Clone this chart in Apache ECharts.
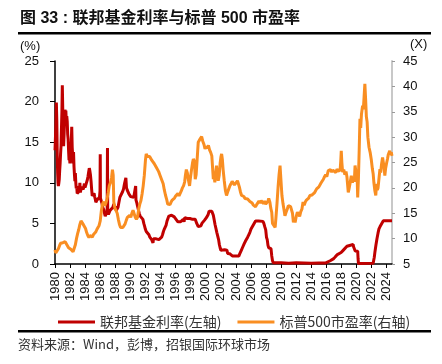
<!DOCTYPE html>
<html><head><meta charset="utf-8">
<script src="https://cdn.jsdelivr.net/npm/echarts@6/dist/echarts.min.js"></script>
<style>html,body{margin:0;padding:0;background:#fff}#c{width:442px;height:364px}</style>
</head><body><div id="c"></div>
<script>
// Texts
const titleText = '图 33 : 联邦基金利率与标普 500 市盈率';
const sourceText = '资料来源：Wind，彭博，招银国际环球市场';
const seriesNames = ['联邦基金利率(左轴)', '标普500市盈率(右轴)'];
const leftUnit = '(%)';
const rightUnit = '(X)';
// Axis ranges / ticks
const xMin = 1980, xMax = 2024.7, xStep = 2;
const leftMin = 0, leftMax = 25, leftStep = 5;
const rightMin = 5, rightMax = 45, rightStep = 5;

// Fed funds rate (%), [year, value]
const fedFunds = [
[1980.0,14.0],[1980.06,15.6],[1980.12,17.2],[1980.18,19.9],[1980.24,17.6],[1980.3,13.3],[1980.35,11.2],[1980.4,10.0],[1980.45,9.6],[1980.5,9.9],[1980.56,10.4],[1980.62,11.5],[1980.68,12.4],[1980.74,13.6],[1980.8,14.5],[1980.86,16.8],[1980.92,18.9],[1980.97,22.0],[1981.02,19.5],[1981.08,16.2],[1981.14,14.5],[1981.2,15.8],[1981.26,17.6],[1981.32,19.0],[1981.38,18.3],[1981.44,18.9],[1981.5,17.4],[1981.56,18.2],[1981.62,17.6],[1981.68,16.0],[1981.74,15.4],[1981.8,14.0],[1981.86,12.8],[1981.92,13.2],[1981.98,12.4],[1982.04,13.6],[1982.1,14.6],[1982.16,15.0],[1982.22,16.9],[1982.28,14.4],[1982.34,13.4],[1982.4,12.4],[1982.46,13.8],[1982.52,12.0],[1982.58,11.0],[1982.64,10.2],[1982.7,11.2],[1982.76,10.0],[1982.82,9.3],[1982.88,9.6],[1982.94,8.7],[1983.0,8.6],[1983.08,8.8],[1983.16,8.5],[1983.24,9.0],[1983.3,10.0],[1983.36,8.8],[1983.42,9.0],[1983.5,9.5],[1983.58,9.7],[1983.66,9.3],[1983.74,9.2],[1983.82,9.5],[1983.9,9.9],[1983.98,9.4],[1984.06,9.6],[1984.14,9.9],[1984.22,10.0],[1984.3,10.4],[1984.38,10.8],[1984.46,11.3],[1984.55,11.8],[1984.62,11.5],[1984.7,11.0],[1984.78,10.2],[1984.86,9.2],[1984.94,8.4],[1985.02,8.6],[1985.1,8.4],[1985.18,8.7],[1985.26,8.3],[1985.34,8.0],[1985.42,7.6],[1985.5,7.8],[1985.58,7.9],[1985.66,7.8],[1985.74,8.0],[1985.82,8.0],[1985.9,8.2],[1985.97,9.0],[1986.0,13.5],[1986.03,8.1],[1986.12,7.9],[1986.22,7.5],[1986.32,7.0],[1986.42,6.9],[1986.5,6.6],[1986.58,6.2],[1986.66,5.9],[1986.76,5.9],[1986.86,6.1],[1986.92,6.5],[1986.96,14.3],[1986.99,6.6],[1987.08,6.1],[1987.18,6.3],[1987.3,6.6],[1987.42,6.8],[1987.55,6.6],[1987.68,7.0],[1987.8,7.4],[1987.9,6.8],[1988.0,7.1],[1988.12,6.6],[1988.24,6.7],[1988.36,7.0],[1988.48,7.6],[1988.6,8.2],[1988.72,8.1],[1988.84,8.4],[1988.96,8.9],[1989.08,9.2],[1989.2,9.8],[1989.32,9.8],[1989.4,10.6],[1989.48,9.4],[1989.58,9.1],[1989.7,8.9],[1989.82,8.6],[1989.92,8.4],[1990.04,8.3],[1990.16,8.2],[1990.3,8.3],[1990.44,8.2],[1990.58,8.0],[1990.66,8.0],[1990.7,9.6],[1990.74,7.9],[1990.86,7.5],[1990.98,7.0],[1991.06,6.7],[1991.18,6.2],[1991.3,5.9],[1991.42,5.8],[1991.54,5.7],[1991.66,5.5],[1991.78,5.0],[1991.9,4.6],[1991.98,4.3],[1992.1,4.0],[1992.22,4.0],[1992.34,3.8],[1992.46,3.6],[1992.58,3.3],[1992.7,3.1],[1992.82,3.0],[1992.94,3.0],[1993.0,2.6],[1993.06,3.1],[1993.18,3.0],[1993.3,2.9],[1993.42,3.1],[1993.54,3.0],[1993.66,3.1],[1993.78,3.0],[1993.9,3.1],[1994.02,3.1],[1994.14,3.3],[1994.26,3.6],[1994.38,4.0],[1994.5,4.3],[1994.62,4.5],[1994.74,4.8],[1994.86,5.3],[1994.98,5.6],[1995.1,5.9],[1995.22,6.1],[1995.34,6.0],[1995.46,6.0],[1995.58,5.8],[1995.7,5.8],[1995.82,5.8],[1995.94,5.6],[1996.06,5.5],[1996.18,5.3],[1996.3,5.2],[1996.42,5.3],[1996.54,5.4],[1996.66,5.2],[1996.78,5.3],[1996.9,5.3],[1997.0,5.5],[1997.12,5.2],[1997.2,5.7],[1997.3,5.5],[1997.42,5.5],[1997.54,5.6],[1997.66,5.5],[1997.78,5.5],[1997.9,5.6],[1998.0,5.5],[1998.12,5.5],[1998.24,5.5],[1998.36,5.5],[1998.48,5.6],[1998.6,5.5],[1998.72,5.4],[1998.8,5.0],[1998.9,4.8],[1999.0,4.6],[1999.12,4.7],[1999.24,4.8],[1999.36,4.7],[1999.48,5.0],[1999.6,5.1],[1999.72,5.2],[1999.84,5.4],[1999.96,5.4],[2000.08,5.7],[2000.2,5.9],[2000.32,6.1],[2000.44,6.5],[2000.56,6.5],[2000.68,6.5],[2000.8,6.5],[2000.92,6.4],[2001.0,6.0],[2001.1,5.5],[2001.22,4.9],[2001.34,4.4],[2001.46,3.9],[2001.58,3.7],[2001.7,3.0],[2001.8,2.4],[2001.9,2.0],[2002.0,1.7],[2002.2,1.75],[2002.5,1.75],[2002.8,1.7],[2002.9,1.3],[2003.2,1.25],[2003.45,1.2],[2003.52,1.0],[2004.4,1.0],[2004.5,1.25],[2004.62,1.45],[2004.74,1.75],[2004.86,2.0],[2004.98,2.2],[2005.1,2.5],[2005.25,2.8],[2005.4,3.0],[2005.55,3.3],[2005.7,3.6],[2005.85,3.9],[2006.0,4.3],[2006.15,4.5],[2006.3,4.8],[2006.45,5.0],[2006.6,5.3],[2007.0,5.3],[2007.58,5.25],[2007.7,5.0],[2007.82,4.6],[2007.95,4.2],[2008.05,3.3],[2008.15,3.0],[2008.25,2.3],[2008.35,2.0],[2008.65,1.9],[2008.75,1.0],[2008.85,0.4],[2008.95,0.15],[2010.0,0.15],[2011.0,0.1],[2012.0,0.14],[2013.0,0.12],[2014.0,0.08],[2015.0,0.12],[2015.92,0.13],[2015.97,0.36],[2016.5,0.4],[2016.97,0.66],[2017.2,0.91],[2017.45,1.16],[2017.95,1.41],[2018.22,1.68],[2018.47,1.91],[2018.72,2.18],[2018.97,2.4],[2019.55,2.4],[2019.6,2.13],[2019.72,1.9],[2019.82,1.6],[2020.15,1.58],[2020.2,0.65],[2020.25,0.06],[2022.2,0.08],[2022.25,0.33],[2022.35,0.83],[2022.45,1.58],[2022.57,2.33],[2022.7,3.08],[2022.85,3.83],[2022.97,4.33],[2023.1,4.58],[2023.25,4.83],[2023.4,5.08],[2023.55,5.33],[2024.7,5.33]
];

// S&P 500 P/E (x), [year, value]
const spxPE = [
[1980.0,7.8],[1980.1,7.2],[1980.2,7.0],[1980.3,7.3],[1980.45,8.0],[1980.6,8.6],[1980.75,9.1],[1980.9,9.4],[1981.05,9.2],[1981.2,9.3],[1981.35,9.4],[1981.5,9.2],[1981.65,8.6],[1981.8,8.2],[1981.95,8.3],[1982.1,7.9],[1982.25,7.6],[1982.4,7.4],[1982.55,7.5],[1982.7,8.8],[1982.85,10.0],[1983.0,11.0],[1983.15,11.8],[1983.3,12.8],[1983.45,13.5],[1983.6,13.3],[1983.75,12.8],[1983.9,12.6],[1984.05,12.0],[1984.2,11.2],[1984.35,10.6],[1984.5,10.2],[1984.65,10.6],[1984.8,10.5],[1984.95,10.3],[1985.1,10.8],[1985.25,10.9],[1985.4,11.3],[1985.55,11.8],[1985.7,12.0],[1985.85,12.6],[1986.0,13.5],[1986.15,15.5],[1986.3,16.8],[1986.45,17.3],[1986.6,16.5],[1986.75,17.0],[1986.9,17.8],[1987.05,19.0],[1987.2,20.4],[1987.35,21.0],[1987.5,22.0],[1987.62,23.6],[1987.72,22.5],[1987.8,17.2],[1987.95,16.0],[1988.1,15.5],[1988.25,15.0],[1988.4,13.8],[1988.55,12.8],[1988.7,12.2],[1988.85,12.0],[1989.0,12.2],[1989.15,12.5],[1989.3,12.9],[1989.45,13.6],[1989.6,14.2],[1989.75,14.5],[1989.9,14.6],[1990.05,14.2],[1990.2,15.0],[1990.35,15.6],[1990.5,15.8],[1990.65,14.2],[1990.8,13.8],[1990.95,14.2],[1991.1,15.8],[1991.25,16.8],[1991.4,17.5],[1991.55,18.8],[1991.7,20.4],[1991.85,22.5],[1992.0,25.5],[1992.1,26.7],[1992.25,26.2],[1992.4,26.5],[1992.55,26.2],[1992.7,25.8],[1992.85,25.4],[1993.0,25.6],[1993.15,24.8],[1993.3,24.6],[1993.45,24.0],[1993.6,23.8],[1993.75,23.2],[1993.9,22.6],[1994.05,22.0],[1994.2,21.4],[1994.35,20.8],[1994.5,19.6],[1994.65,18.6],[1994.8,17.8],[1994.95,16.8],[1995.1,16.5],[1995.25,16.7],[1995.4,17.2],[1995.55,17.6],[1995.7,17.8],[1995.85,18.0],[1996.0,18.4],[1996.15,18.6],[1996.3,18.9],[1996.45,18.4],[1996.6,18.5],[1996.75,19.4],[1996.9,20.0],[1997.05,20.4],[1997.2,21.2],[1997.3,22.5],[1997.42,23.6],[1997.55,23.0],[1997.7,21.5],[1997.85,20.4],[1997.95,21.8],[1998.1,23.5],[1998.25,25.0],[1998.35,25.7],[1998.5,25.2],[1998.6,21.7],[1998.72,22.6],[1998.85,25.5],[1999.0,29.0],[1999.15,29.4],[1999.3,29.7],[1999.45,30.1],[1999.6,29.2],[1999.75,28.6],[1999.9,27.7],[2000.05,28.2],[2000.2,27.8],[2000.35,28.4],[2000.5,27.5],[2000.65,27.0],[2000.8,26.3],[2000.9,24.0],[2001.0,21.7],[2001.1,22.4],[2001.2,21.1],[2001.32,23.0],[2001.42,24.4],[2001.52,22.6],[2001.65,21.4],[2001.78,22.5],[2001.9,24.8],[2002.0,26.0],[2002.1,26.7],[2002.2,25.6],[2002.3,23.6],[2002.45,21.4],[2002.6,19.5],[2002.75,18.5],[2002.9,19.2],[2003.05,19.8],[2003.2,20.4],[2003.35,20.8],[2003.5,21.3],[2003.65,21.0],[2003.8,20.6],[2003.9,20.4],[2004.05,20.9],[2004.2,21.4],[2004.3,21.1],[2004.45,20.2],[2004.6,19.2],[2004.75,18.5],[2004.9,18.8],[2005.05,18.3],[2005.2,17.9],[2005.4,17.8],[2005.55,17.8],[2005.7,17.5],[2005.85,17.3],[2006.0,17.3],[2006.15,17.0],[2006.3,16.6],[2006.45,16.4],[2006.6,16.3],[2006.75,16.7],[2006.9,17.0],[2007.05,17.4],[2007.2,17.0],[2007.35,17.5],[2007.5,17.2],[2007.65,16.9],[2007.8,17.4],[2007.95,16.8],[2008.1,16.9],[2008.25,17.4],[2008.35,17.9],[2008.5,17.2],[2008.62,16.0],[2008.75,15.2],[2008.85,13.0],[2008.95,13.3],[2009.05,12.8],[2009.2,12.2],[2009.3,14.0],[2009.45,17.0],[2009.6,20.4],[2009.72,22.6],[2009.85,24.4],[2009.95,22.0],[2010.1,18.5],[2010.25,16.8],[2010.4,15.5],[2010.5,14.5],[2010.65,15.2],[2010.8,15.8],[2010.95,16.5],[2011.1,16.6],[2011.25,16.3],[2011.4,16.5],[2011.5,15.0],[2011.62,13.2],[2011.72,13.8],[2011.85,13.2],[2012.0,14.4],[2012.15,15.2],[2012.3,15.0],[2012.45,14.4],[2012.6,15.3],[2012.75,15.8],[2012.9,17.2],[2013.05,16.6],[2013.2,17.2],[2013.35,17.6],[2013.5,17.3],[2013.65,18.0],[2013.8,18.5],[2013.95,18.2],[2014.1,18.6],[2014.25,18.8],[2014.4,19.0],[2014.55,19.4],[2014.7,19.8],[2014.85,19.5],[2015.0,20.2],[2015.15,20.4],[2015.3,21.0],[2015.45,21.2],[2015.6,21.7],[2015.75,22.2],[2015.9,22.6],[2016.05,22.2],[2016.25,23.4],[2016.4,23.2],[2016.55,23.6],[2016.7,23.1],[2016.85,23.5],[2017.0,23.3],[2017.1,23.4],[2017.25,23.0],[2017.4,23.7],[2017.55,23.3],[2017.7,23.6],[2017.82,23.5],[2017.9,25.2],[2017.97,27.3],[2018.05,25.0],[2018.15,23.1],[2018.3,23.6],[2018.45,22.6],[2018.6,23.2],[2018.72,22.2],[2018.82,20.5],[2018.9,19.1],[2019.0,19.8],[2019.15,21.0],[2019.3,22.4],[2019.45,21.0],[2019.58,22.0],[2019.7,21.2],[2019.8,24.4],[2019.95,22.8],[2020.05,23.6],[2020.15,18.1],[2020.25,22.0],[2020.35,27.5],[2020.45,33.6],[2020.55,31.8],[2020.65,34.5],[2020.8,36.2],[2020.9,35.5],[2021.0,38.0],[2021.1,40.5],[2021.2,37.5],[2021.3,34.0],[2021.4,33.0],[2021.5,30.0],[2021.65,28.0],[2021.8,27.0],[2021.95,25.6],[2022.1,23.7],[2022.2,22.8],[2022.3,21.0],[2022.42,19.5],[2022.55,18.5],[2022.65,20.8],[2022.75,19.6],[2022.85,20.0],[2022.95,21.5],[2023.1,23.7],[2023.2,23.0],[2023.3,24.5],[2023.45,26.0],[2023.55,25.0],[2023.65,24.0],[2023.75,22.4],[2023.85,23.8],[2024.0,25.0],[2024.1,25.7],[2024.2,26.5],[2024.3,26.9],[2024.4,27.3],[2024.5,26.6],[2024.6,27.0],[2024.7,26.3]
];

const RED = '#C00000', ORANGE = '#F98E22';
const FONT = '"Liberation Sans", Arial, "Noto Sans CJK SC", sans-serif';
const CJK = '"Noto Sans CJK SC", sans-serif';

const chart = echarts.init(document.getElementById('c'), null, {renderer: 'canvas'});
chart.setOption({
  animation: false,
  backgroundColor: '#fff',
  textStyle: {fontFamily: FONT},
  grid: {left: 55, right: 50, top: 61, bottom: 100, containLabel: false},
  legend: {
    left: 53, top: 310, itemWidth: 37, itemHeight: 3, itemGap: 16,
    icon: 'rect',
    textStyle: {fontFamily: CJK, fontSize: 14, color: '#333'},
    data: seriesNames
  },
  graphic: [
    {type: 'text', left: 20, top: 11, style: {text: titleText, font: 'bold 16px ' + FONT, fill: '#111'}},
    {type: 'rect', shape: {x: 18, y: 32, width: 413, height: 2.5}, style: {fill: '#000'}},
    {type: 'text', left: 20, top: 40, style: {text: leftUnit, font: '13px ' + FONT, fill: '#111'}},
    {type: 'text', left: 410, top: 38, style: {text: rightUnit, font: '13px ' + FONT, fill: '#111'}},
    {type: 'rect', shape: {x: 18, y: 330, width: 413, height: 2.5}, style: {fill: '#000'}},
    {type: 'text', left: 18, top: 338, style: {text: sourceText, font: '13px ' + CJK, fill: '#333'}}
  ],
  xAxis: {
    type: 'value', min: xMin, max: xMax, interval: xStep,
    axisLine: {lineStyle: {color: '#000', width: 1.5}},
    axisTick: {length: 4, lineStyle: {color: '#000'}},
    axisLabel: {rotate: 90, margin: 8, fontSize: 13, color: '#111', showMaxLabel: false,
      formatter: v => Math.abs(v - Math.round(v)) < 1e-6 ? String(Math.round(v)) : ''},
    splitLine: {show: false}
  },
  yAxis: [
    {type: 'value', position: 'left', min: leftMin, max: leftMax, interval: leftStep,
     axisLine: {show: true, lineStyle: {color: '#000', width: 1.5}},
     axisTick: {show: true, length: 5, lineStyle: {color: '#000'}},
     axisLabel: {fontSize: 13, color: '#111', margin: 16},
     splitLine: {show: false}},
    {type: 'value', position: 'right', min: rightMin, max: rightMax, interval: rightStep,
     axisLine: {show: true, lineStyle: {color: '#C8C8C8', width: 2}},
     axisTick: {show: true, length: 3, lineStyle: {color: '#999'}},
     axisLabel: {fontSize: 13, color: '#111', margin: 11},
     splitLine: {show: false}}
  ],
  series: [
    {name: seriesNames[0], type: 'line', yAxisIndex: 0, data: fedFunds, showSymbol: false,
     lineStyle: {color: RED, width: 3}, itemStyle: {color: RED}},
    {name: seriesNames[1], type: 'line', yAxisIndex: 1, data: spxPE, showSymbol: false,
     lineStyle: {color: ORANGE, width: 3}, itemStyle: {color: ORANGE}}
  ]
});
</script></body></html>
